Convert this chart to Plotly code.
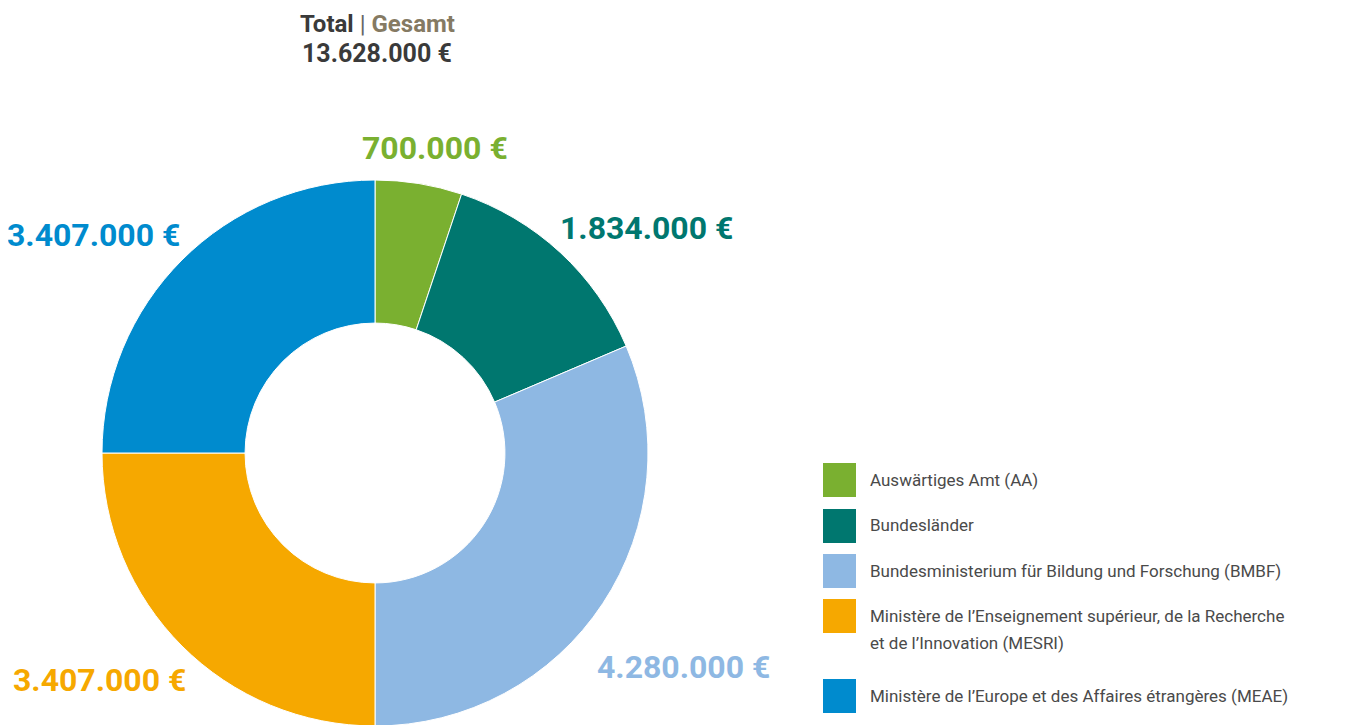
import plotly.graph_objects as go

W, H = 1346, 725
OFF = 8  # page body margin offset

categories = [
    "Auswärtiges Amt (AA)",
    "Bundesländer",
    "Bundesministerium für Bildung und Forschung (BMBF)",
    "Ministère de l’Enseignement supérieur, de la Recherche<br>et de l’Innovation (MESRI)",
    "Ministère de l’Europe et des Affaires étrangères (MEAE)",
]
values = [700000, 1834000, 4280000, 3407000, 3407000]
value_labels = ["700.000 €", "1.834.000 €", "4.280.000 €", "3.407.000 €", "3.407.000 €"]
colors = ["#7AB030", "#00776F", "#8EB8E3", "#F6A800", "#008BCE"]
total_label = "13.628.000 €"

# layout positions (pixels, as seen on the page)
value_label_pos = [(435, 148), (646, 228), (683, 667), (99, 680), (93, 235)]
legend_box_top = [463, 509, 554, 599, 679]
legend_text_y = [480, 525, 571, 616, 696]
legend_line_gap = 27


def px(x):
    return (x - OFF) / W


def py(y):
    return 1 - (y - OFF) / H


cx, cy, R = 375, 453, 273
fig = go.Figure()
fig.add_trace(go.Pie(
    labels=[c.replace("<br>", " ") for c in categories],
    values=values,
    marker=dict(colors=colors, line=dict(color="white", width=1)),
    hole=0.476,
    sort=False,
    direction="clockwise",
    rotation=0,
    textinfo="none",
    hoverinfo="label+value",
    showlegend=False,
    domain=dict(x=[px(cx - R), px(cx + R)], y=[py(cy + R), py(cy - R)]),
))

annotations = []
for lab, col, (x, y) in zip(value_labels, colors, value_label_pos):
    annotations.append(dict(
        x=px(x), y=py(y), xref="paper", yref="paper", text="<b>" + lab + "</b>",
        showarrow=False, xanchor="center", yanchor="middle",
        font=dict(family="Roboto", size=32, color=col),
    ))

annotations.append(dict(
    x=px(377), y=py(24), xref="paper", yref="paper",
    text="<b>Total</b> <span style='color:#666666'>|</span> <b><span style='color:#857A63'>Gesamt</span></b>",
    showarrow=False, xanchor="center", yanchor="middle",
    font=dict(family="Roboto", size=24, color="#3A3A3A"),
))
annotations.append(dict(
    x=px(377), y=py(53), xref="paper", yref="paper", text="<b>" + total_label + "</b>",
    showarrow=False, xanchor="center", yanchor="middle",
    font=dict(family="Roboto", size=25, color="#3A3A3A"),
))

shapes = []
for cat, col, top, ty in zip(categories, colors, legend_box_top, legend_text_y):
    shapes.append(dict(
        type="rect", xref="paper", yref="paper",
        x0=px(823), x1=px(856), y0=py(top + 34), y1=py(top),
        fillcolor=col, line=dict(width=0),
    ))
    for i, line in enumerate(cat.split("<br>")):
        annotations.append(dict(
            x=px(868), y=py(ty + i * legend_line_gap), xref="paper", yref="paper", text=line,
            showarrow=False, xanchor="left", yanchor="middle", align="left",
            font=dict(family="Roboto", size=17, color="#4A4A4A"),
        ))

fig.update_layout(
    width=W, height=H,
    margin=dict(l=0, r=0, t=0, b=0),
    paper_bgcolor="white", plot_bgcolor="white",
    annotations=annotations, shapes=shapes,
)

fig.write_html("out.html")
